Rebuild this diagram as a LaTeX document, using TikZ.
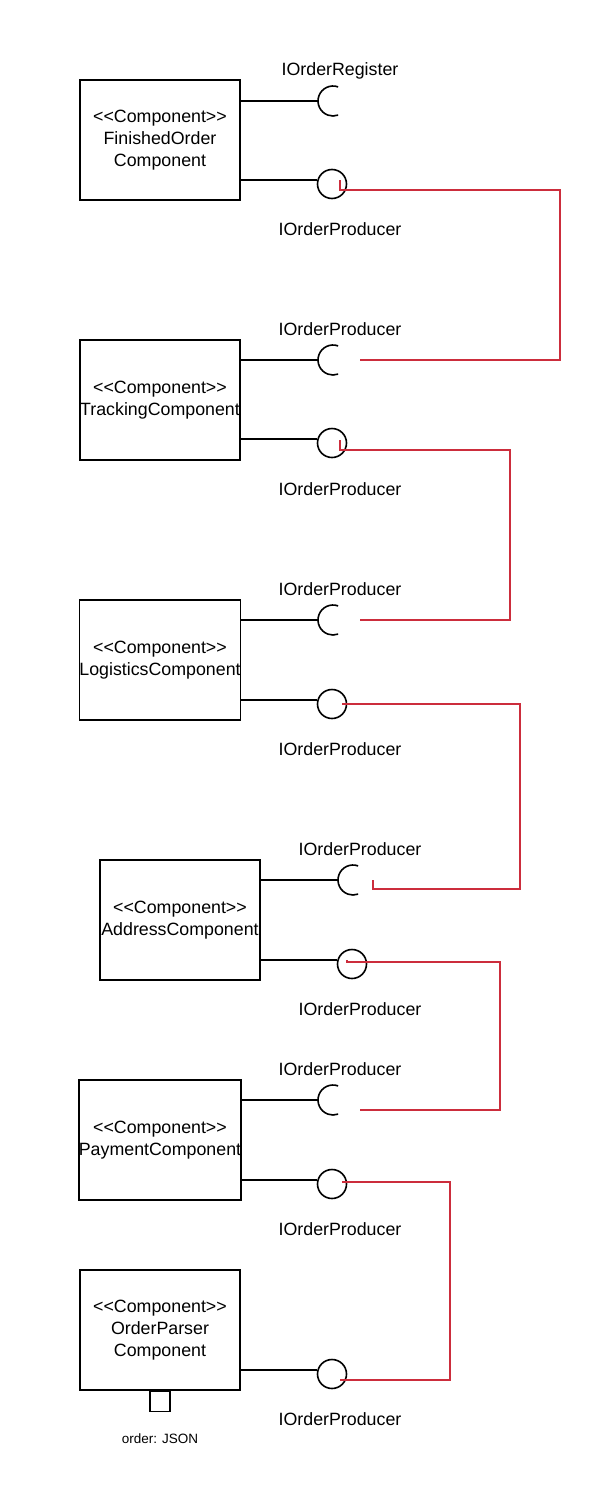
\documentclass[tikz,border=0pt]{standalone}
\usepackage{fontspec}
\setmainfont{Liberation Sans}
\usepackage{tikz}
\definecolor{wirered}{RGB}{204,45,60}

\begin{document}
\begin{tikzpicture}[x=1pt, y=-1pt, line width=1.6pt,
		comp/.style={draw, rectangle, minimum width=160pt, minimum height=120pt, inner sep=0pt, align=center, font=\fontsize{17.8}{22}\selectfont},
		ball/.style={draw, circle, minimum size=29pt, inner sep=0pt},
		lbl/.style={anchor=base, font=\fontsize{17.8}{21}\selectfont},
		wire/.style={draw=wirered, line width=1.6pt}]
		\useasboundingbox (0,0) rectangle (600,1510);
		
		% components
		\node (finished) [comp] at (160,140) {<{}<Component>{}>\\FinishedOrder\\Component};
		\node (tracking) [comp] at (160,400) {<{}<Component>{}>\\TrackingComponent};
		\node (logistics) [comp] at (160,660) {<{}<Component>{}>\\LogisticsComponent};
		\node (address) [comp] at (180,920) {<{}<Component>{}>\\AddressComponent};
		\node (payment) [comp] at (160,1140) {<{}<Component>{}>\\PaymentComponent};
		\node (parser) [comp] at (160,1330) {<{}<Component>{}>\\OrderParser\\Component};
		\node (port) [draw, rectangle, minimum size=20pt, inner sep=0pt, anchor=north] at (parser.south) {};
		\node (portname) [font=\fontsize{13.5}{16}\selectfont, anchor=base] at (160,1443) {order: JSON};
		
		% sockets
		\coordinate (s1) at (333,101);
		\coordinate (s2) at (333,360);
		\coordinate (s3) at (333,620);
		\coordinate (s4) at (353,880);
		\coordinate (s5) at (333,1100);
		\foreach \s in {s1,s2,s3,s4,s5}
			\draw (\s) ++(70:15pt) arc[start angle=70, end angle=290, radius=15pt];
		
		% balls
		\node (b1) [ball] at (332,184) {};
		\node (b2) [ball] at (332,443) {};
		\node (b3) [ball] at (332,704) {};
		\node (b4) [ball] at (352,964) {};
		\node (b5) [ball] at (332,1184) {};
		\node (b6) [ball] at (332,1374) {};
		
		\draw (finished.east |- s1) -- ([xshift=-15pt]s1);
		\draw (finished.east |- b1.165) -- (b1.165);
		\draw (tracking.east |- s2) -- ([xshift=-15pt]s2);
		\draw (tracking.east |- b2.165) -- (b2.165);
		\draw (logistics.east |- s3) -- ([xshift=-15pt]s3);
		\draw (logistics.east |- b3.165) -- (b3.165);
		\draw (address.east |- s4) -- ([xshift=-15pt]s4);
		\draw (address.east |- b4.165) -- (b4.165);
		\draw (payment.east |- s5) -- ([xshift=-15pt]s5);
		\draw (payment.east |- b5.165) -- (b5.165);
		\draw (parser.east |- b6.165) -- (b6.165);
		
		% interface names
		\node (n1) [lbl] at (340,75) {IOrderRegister};
		\node (n2) [lbl] at (340,235) {IOrderProducer};
		\node (n3) [lbl] at (340,335) {IOrderProducer};
		\node (n4) [lbl] at (340,495) {IOrderProducer};
		\node (n5) [lbl] at (340,595) {IOrderProducer};
		\node (n6) [lbl] at (340,755) {IOrderProducer};
		\node (n7) [lbl] at (360,855) {IOrderProducer};
		\node (n8) [lbl] at (360,1015) {IOrderProducer};
		\node (n9) [lbl] at (340,1075) {IOrderProducer};
		\node (n10) [lbl] at (340,1235) {IOrderProducer};
		\node (n11) [lbl] at (340,1425) {IOrderProducer};
		
		% red links
		\draw[wire] ([xshift=8pt,yshift=4pt]b1.center) -- ++(0,10) -- ++(220,0) |- ([xshift=27pt]s2);
		\draw[wire] ([xshift=8pt,yshift=3pt]b2.center) -- ++(0,10) -- ++(170,0) |- ([xshift=27pt]s3);
		\draw[wire] ([xshift=10pt]b3.center) -- ++(178,0) |- ([xshift=20pt,yshift=-9pt]s4) -- ++(0,-9);
		\draw[wire] ([xshift=-5pt,yshift=4pt]b4.center) -- ++(0,2) -- ++(153,0) |- ([xshift=27pt,yshift=-10pt]s5);
		\draw[wire] ([xshift=10pt,yshift=2pt]b5.center) -- ++(108,0) |- ([xshift=8pt,yshift=-6pt]b6.center);
	\end{tikzpicture}
\end{document}
